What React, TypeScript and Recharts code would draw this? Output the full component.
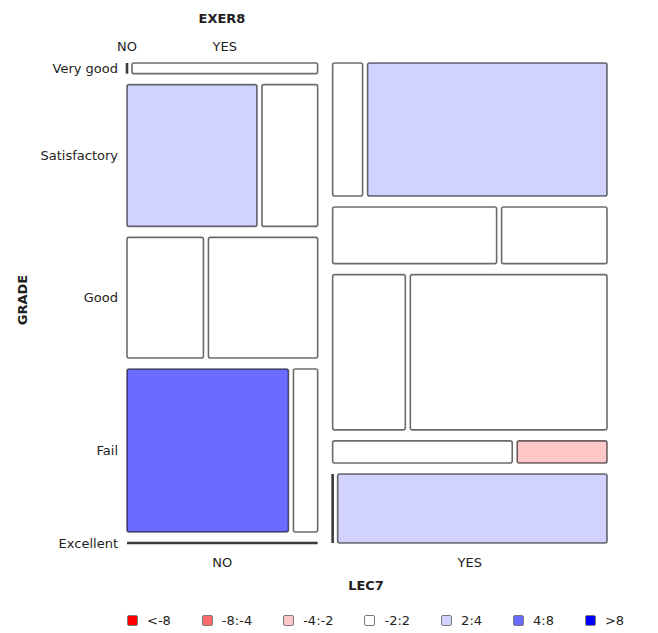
import React from 'react';
import { ScatterChart, Scatter, XAxis, YAxis, ReferenceArea, ReferenceLine, Rectangle } from 'recharts';

const grades = ['Very good', 'Satisfactory', 'Good', 'Fail', 'Excellent'];
const lec7 = ['NO', 'YES'];
const exer8 = ['NO', 'YES'];

// counts per grade, split by LEC7 then EXER8
const lecNoExerNo = [0, 28, 14, 40, 0];
const lecNoExerYes = [3, 12, 20, 6, 0];
const lecYesExerNo = [6, 14, 17, 6, 0];
const lecYesExerYes = [48, 9, 46, 3, 28];

// residual class of each cell
const lecNoExerNoShade = ['-2:2', '2:4', '-2:2', '4:8', '-2:2'];
const lecNoExerYesShade = ['-2:2', '-2:2', '-2:2', '-2:2', '-2:2'];
const lecYesExerNoShade = ['-2:2', '-2:2', '-2:2', '-2:2', '-2:2'];
const lecYesExerYesShade = ['2:4', '-2:2', '-2:2', '-4:-2', '2:4'];

const shadeBins = ['<-8', '-8:-4', '-4:-2', '-2:2', '2:4', '4:8', '>8'];
const shadeColors = ['#ff0000', '#ff6b6b', '#ffc8c8', '#ffffff', '#d2d2ff', '#6b6bff', '#0000ff'];

const FONT = '"DejaVu Sans", Verdana, sans-serif';
const SPAN = 480;
const GAP_LEC = 15;
const GAP_EXER = 5;
const GAP_GRADE = 11;
const PLOT_LEFT = 127;
const PLOT_TOP = 63;
const PLOT_BOTTOM = 543;

const sum = (a: number[]) => a.reduce((s, v) => s + v, 0);

function buildLayout() {
  const counts = [[lecNoExerNo, lecNoExerYes], [lecYesExerNo, lecYesExerYes]];
  const shades = [[lecNoExerNoShade, lecNoExerYesShade], [lecYesExerNoShade, lecYesExerYesShade]];
  const total = sum(counts.map((col) => sum(col.map(sum))));
  const usableW = SPAN - GAP_LEC * (lec7.length - 1);
  const usableH = SPAN - GAP_GRADE * (grades.length - 1);

  const cells: any[] = [];
  const zeroLines: any[] = [];
  const lecTicks: number[] = [];
  const exerTicks: number[] = [];
  const gradeTicks: number[] = [];

  let x = 0;
  counts.forEach((col, c) => {
    const rowTotals = grades.map((_, g) => sum(col.map((arr) => arr[g])));
    const colTotal = sum(rowTotals);
    const colW = (colTotal / total) * usableW;
    lecTicks.push(x + colW / 2);
    let y = 0;
    grades.forEach((_, g) => {
      const rowH = (rowTotals[g] / colTotal) * usableH;
      if (rowTotals[g] === 0) {
        zeroLines.push({ x1: x, y1: y, x2: x + colW, y2: y });
      } else {
        const innerW = colW - GAP_EXER * (exer8.length - 1);
        let cx = x;
        col.forEach((arr, e) => {
          const cw = (arr[g] / rowTotals[g]) * innerW;
          if (arr[g] === 0) {
            zeroLines.push({ x1: cx, y1: y, x2: cx, y2: y + rowH });
          } else {
            const fill = shadeColors[shadeBins.indexOf(shades[c][e][g])];
            cells.push({ x1: cx, x2: cx + cw, y1: y, y2: y + rowH, fill, cx: cx + cw / 2, cy: y + rowH / 2 });
          }
          if (c === 0 && g === 0) exerTicks.push(cx + cw / 2);
          cx += cw + GAP_EXER;
        });
      }
      if (c === 0) gradeTicks.push(y + rowH / 2);
      y += rowH + GAP_GRADE;
    });
    x += colW + GAP_LEC;
  });
  return { cells, zeroLines, lecTicks, exerTicks, gradeTicks };
}

const layout = buildLayout();

const textStyle = { fontFamily: FONT, fontSize: 13, fill: '#1e1e1e' };

const GradeTick = (props: any) => (
  <text x={PLOT_LEFT - 9} y={props.y} dy={4.5} textAnchor="end" style={textStyle}>
    {grades[props.index]}
  </text>
);

const LecTick = (props: any) => (
  <text x={props.x} y={PLOT_BOTTOM + 23.5} textAnchor="middle" style={textStyle}>
    {lec7[props.index]}
  </text>
);

const ExerTick = (props: any) => (
  <text x={props.x} y={PLOT_TOP - 12.5} textAnchor="middle" style={textStyle}>
    {exer8[props.index]}
  </text>
);

const CellShape = (p: any) => <Rectangle {...p} radius={2} />;
const NoDot = () => <g />;

export default function App() {
  return (
    <div style={{ position: 'absolute', left: 0, top: 0, width: 658, height: 633, background: '#fff' }}>
      <ScatterChart width={658} height={633} margin={{ top: 33, right: 51, bottom: 60, left: 17 }}>
        <XAxis
          xAxisId="lec"
          dataKey="cx"
          type="number"
          orientation="bottom"
          domain={[0, SPAN]}
          allowDataOverflow
          ticks={layout.lecTicks}
          interval={0}
          height={30}
          axisLine={false}
          tickLine={false}
          tick={<LecTick />}
        />
        <XAxis
          xAxisId="exer"
          dataKey="cx"
          type="number"
          orientation="top"
          domain={[0, SPAN]}
          allowDataOverflow
          ticks={layout.exerTicks}
          interval={0}
          height={30}
          axisLine={false}
          tickLine={false}
          tick={<ExerTick />}
        />
        <YAxis
          yAxisId="grade"
          dataKey="cy"
          type="number"
          domain={[0, SPAN]}
          reversed
          allowDataOverflow
          ticks={layout.gradeTicks}
          interval={0}
          width={110}
          axisLine={false}
          tickLine={false}
          tick={<GradeTick />}
        />
        <Scatter
          data={layout.cells}
          xAxisId="lec"
          yAxisId="grade"
          shape={NoDot}
          isAnimationActive={false}
        />
        <Scatter
          data={layout.cells}
          xAxisId="exer"
          yAxisId="grade"
          shape={NoDot}
          isAnimationActive={false}
        />
        {layout.cells.map((cell, i) => (
          <ReferenceArea
            key={'c' + i}
            xAxisId="lec"
            yAxisId="grade"
            x1={cell.x1}
            x2={cell.x2}
            y1={cell.y1}
            y2={cell.y2}
            fill={cell.fill}
            fillOpacity={1}
            stroke="#000"
            strokeOpacity={0.58}
            strokeWidth={1.6}
            shape={CellShape}
            ifOverflow="visible"
          />
        ))}
        {layout.zeroLines.map((z, i) => (
          <ReferenceLine
            key={'z' + i}
            xAxisId="lec"
            yAxisId="grade"
            segment={[{ x: z.x1, y: z.y1 }, { x: z.x2, y: z.y2 }]}
            stroke="#3a3a3a"
            strokeWidth={2.6}
            ifOverflow="visible"
          />
        ))}
      </ScatterChart>
      <svg width={658} height={633} style={{ position: 'absolute', left: 0, top: 0, pointerEvents: 'none' }}>
        <text x={222} y={22.5} textAnchor="middle" style={{ ...textStyle, fontWeight: 'bold' }}>EXER8</text>
        <text x={366} y={589.5} textAnchor="middle" style={{ ...textStyle, fontWeight: 'bold' }}>LEC7</text>
        <text
          x={0}
          y={0}
          textAnchor="middle"
          transform="translate(26.5 300) rotate(-90)"
          style={{ ...textStyle, fontWeight: 'bold' }}
        >
          GRADE
        </text>
      </svg>
      <div
        style={{
          position: 'absolute',
          left: 127,
          top: 613,
          display: 'flex',
          alignItems: 'center',
          gap: 31,
          fontFamily: FONT,
          fontSize: 13,
          color: '#1e1e1e',
        }}
      >
        {shadeBins.map((bin, i) => (
          <div key={bin} style={{ display: 'flex', alignItems: 'center' }}>
            <span
              style={{
                width: 9,
                height: 9,
                background: shadeColors[i],
                border: '1.5px solid #7a7a7a',
                borderRadius: 2,
                marginRight: 9,
              }}
            />
            <span>{bin}</span>
          </div>
        ))}
      </div>
    </div>
  );
}
